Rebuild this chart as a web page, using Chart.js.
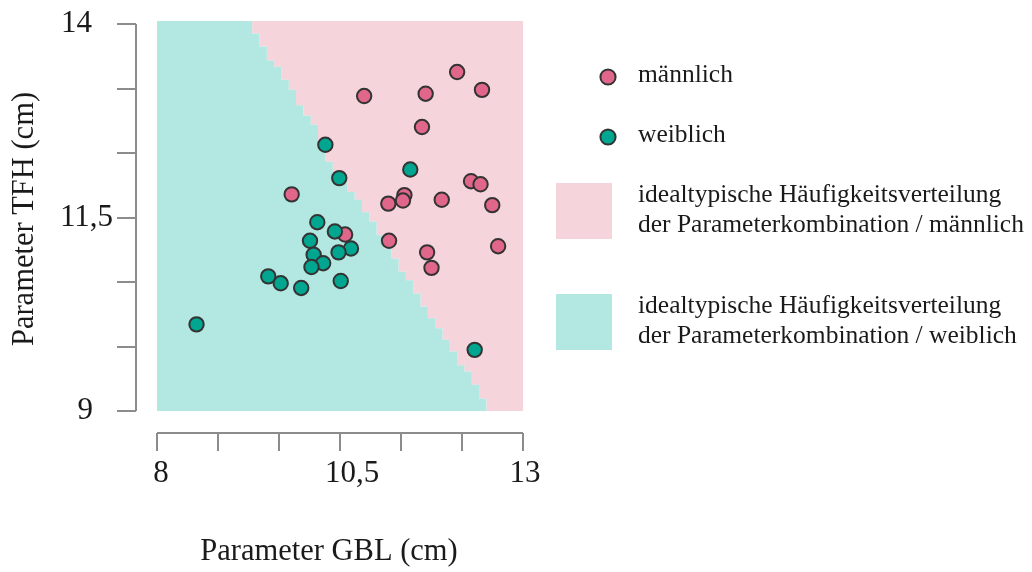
<!DOCTYPE html>
<html>
<head>
<meta charset="utf-8">
<title>GBL / TFH</title>
<script src="https://cdn.jsdelivr.net/npm/chart.js@4.4.1/dist/chart.umd.min.js"></script>
<style>
  html, body { margin: 0; padding: 0; background: #fff; }
  #wrap { width: 1032px; height: 572px; }
</style>
</head>
<body>
<div id="wrap"><canvas id="gblChart" width="1032" height="572"></canvas></div>
<script>
// Messwerte (cm)
const maleGBL = [12.10, 10.83, 11.67, 12.44, 11.62, 9.84, 11.16, 11.38, 11.36, 11.89, 12.29, 12.42, 12.58, 10.57, 11.17, 11.69, 11.75, 12.66];
const maleTFH = [13.38, 13.07, 13.10, 13.15, 12.67, 11.80, 11.68, 11.79, 11.72, 11.73, 11.97, 11.93, 11.66, 11.28, 11.20, 11.05, 10.85, 11.13];
const femaleGBL = [10.30, 11.46, 10.49, 10.19, 10.43, 10.09, 10.65, 10.14, 10.48, 10.27, 10.11, 9.52, 9.69, 9.97, 10.51, 8.54, 12.34];
const femaleTFH = [12.44, 12.12, 12.01, 11.44, 11.32, 11.20, 11.10, 11.02, 11.05, 10.91, 10.86, 10.74, 10.65, 10.59, 10.68, 10.12, 9.79];

// Klassifikationsraster: pro GBL-Spalte die Obergrenze der "weiblich"-Zellen
const gridGBL = [8.0, 8.1, 8.2, 8.3, 8.4, 8.5, 8.6, 8.7, 8.8, 8.9,
                 9.0, 9.1, 9.2, 9.3, 9.4, 9.5, 9.6, 9.7, 9.8, 9.9,
                 10.0, 10.1, 10.2, 10.3, 10.4, 10.5, 10.6, 10.7, 10.8, 10.9,
                 11.0, 11.1, 11.2, 11.3, 11.4, 11.5, 11.6, 11.7, 11.8, 11.9,
                 12.0, 12.1, 12.2, 12.3, 12.4, 12.5, 12.6, 12.7, 12.8, 12.9, 13.0];
const gridTFH = [14.04, 14.04, 14.04, 14.04, 14.04, 14.04, 14.04, 14.04, 14.04, 14.04,
                 14.04, 14.04, 14.04, 13.88, 13.71, 13.53, 13.45, 13.28, 13.15, 12.95,
                 12.82, 12.70, 12.48, 12.22, 12.09, 11.96, 11.83, 11.73, 11.57, 11.45,
                 11.27, 11.10, 10.97, 10.80, 10.69, 10.52, 10.35, 10.20, 10.07, 9.92,
                 9.77, 9.59, 9.51, 9.34, 9.16, 9.0, 9.0, 9.0, 9.0, 9.0, 9.0];

const xTicks = [8, 8.833, 9.667, 10.5, 11.333, 12.167, 13];
const xTickLabels = ['8', '', '', '10,5', '', '', '13'];
const yTicks = [9, 9.833, 10.667, 11.5, 12.333, 13.167, 14];
const yTickLabels = ['9', '', '', '11,5', '', '', '14'];

const pink = '#e0668a';
const teal = '#00a690';
const pinkArea = '#f6d4db';
const tealArea = '#b3e7e1';
const serif = '"Liberation Serif", "Times New Roman", serif';
const textColor = '#1a1a1a';

const toPoints = (xs, ys) => xs.map((x, i) => ({ x: x, y: ys[i] }));
const gridPoints = toPoints(gridGBL, gridTFH);

// axes sit apart from the plot area, so they are drawn by hand
const offsetAxes = {
  id: 'offsetAxes',
  afterDraw(chart) {
    const { ctx, scales: { x, y } } = chart;
    const axisX = x.getPixelForValue(8) - 21;
    const axisY = y.getPixelForValue(9) + 22;
    ctx.save();
    ctx.strokeStyle = '#8c8c8c';
    ctx.lineWidth = 2;
    ctx.beginPath();
    ctx.moveTo(axisX, y.getPixelForValue(yTicks[0]));
    ctx.lineTo(axisX, y.getPixelForValue(yTicks[yTicks.length - 1]));
    yTicks.forEach(v => {
      const py = Math.round(y.getPixelForValue(v));
      ctx.moveTo(axisX - 19, py);
      ctx.lineTo(axisX, py);
    });
    ctx.moveTo(x.getPixelForValue(xTicks[0]), axisY);
    ctx.lineTo(x.getPixelForValue(xTicks[xTicks.length - 1]), axisY);
    xTicks.forEach(v => {
      const px = Math.round(x.getPixelForValue(v));
      ctx.moveTo(px, axisY);
      ctx.lineTo(px, axisY + 18);
    });
    ctx.stroke();

    ctx.fillStyle = textColor;
    ctx.font = '31px ' + serif;
    const yGap = { '14': 44, '11,5': 23, '9': 43 };
    ctx.textAlign = 'right';
    ctx.textBaseline = 'middle';
    yTicks.forEach((v, i) => {
      const lab = yTickLabels[i];
      if (lab) ctx.fillText(lab, axisX - yGap[lab], y.getPixelForValue(v));
    });
    const xShift = { '8': 4, '10,5': 12, '13': 2 };
    ctx.textAlign = 'center';
    ctx.textBaseline = 'alphabetic';
    xTicks.forEach((v, i) => {
      const lab = xTickLabels[i];
      if (lab) ctx.fillText(lab, x.getPixelForValue(v) + xShift[lab], axisY + 49);
    });

    ctx.font = '30.5px ' + serif;
    ctx.fillText('Parameter GBL (cm)', 329, 560);
    ctx.translate(33, (y.top + y.bottom) / 2 + 3);
    ctx.rotate(-Math.PI / 2);
    ctx.fillText('Parameter TFH (cm)', 0, 0);
    ctx.restore();
  }
};

const sideLegend = {
  id: 'sideLegend',
  afterDraw(chart) {
    const ctx = chart.ctx;
    ctx.save();
    const dot = (cx, cy, color) => {
      ctx.beginPath();
      ctx.arc(cx, cy, 7.6, 0, Math.PI * 2);
      ctx.fillStyle = color;
      ctx.fill();
      ctx.lineWidth = 2;
      ctx.strokeStyle = '#333';
      ctx.stroke();
    };
    dot(608, 77, pink);
    dot(608, 137, teal);
    ctx.fillStyle = pinkArea;
    ctx.fillRect(556, 183, 56, 56);
    ctx.fillStyle = tealArea;
    ctx.fillRect(556, 294, 56, 56);

    ctx.fillStyle = textColor;
    ctx.font = '25.5px ' + serif;
    ctx.textAlign = 'left';
    ctx.textBaseline = 'alphabetic';
    ctx.fillText('männlich', 638, 82);
    ctx.fillText('weiblich', 638, 142);
    ctx.fillText('idealtypische Häufigkeitsverteilung', 638, 202);
    ctx.fillText('der Parameterkombination / männlich', 638, 232);
    ctx.fillText('idealtypische Häufigkeitsverteilung', 638, 313);
    ctx.fillText('der Parameterkombination / weiblich', 638, 343);
    ctx.restore();
  }
};

const ctx = document.getElementById('gblChart').getContext('2d');
const chart = new Chart(ctx, {
  type: 'scatter',
  data: {
    datasets: [
      {
        label: 'weiblich',
        data: toPoints(femaleGBL, femaleTFH),
        backgroundColor: teal,
        borderColor: '#333',
        borderWidth: 2,
        pointRadius: 7.2,
        order: 0
      },
      {
        label: 'männlich',
        data: toPoints(maleGBL, maleTFH),
        backgroundColor: pink,
        borderColor: '#333',
        borderWidth: 2,
        pointRadius: 7.2,
        order: 1
      },
      {
        type: 'line',
        label: 'Verteilung weiblich',
        data: gridPoints,
        stepped: true,
        fill: 'start',
        backgroundColor: tealArea,
        borderColor: 'transparent',
        borderWidth: 0,
        pointRadius: 0,
        order: 2
      },
      {
        type: 'line',
        label: 'Verteilung männlich',
        data: gridPoints,
        stepped: true,
        fill: 'end',
        backgroundColor: pinkArea,
        borderColor: 'transparent',
        borderWidth: 0,
        pointRadius: 0,
        order: 3
      }
    ]
  },
  options: {
    responsive: false,
    animation: false,
    devicePixelRatio: 1,
    events: [],
    layout: { padding: { left: 157, right: 509, top: 21, bottom: 161 } },
    scales: {
      x: { type: 'linear', min: 8, max: 13, display: false },
      y: { type: 'linear', min: 9, max: 14.04, display: false }
    },
    plugins: {
      legend: { display: false },
      tooltip: { enabled: false }
    }
  },
  plugins: [offsetAxes, sideLegend]
});
</script>
</body>
</html>
